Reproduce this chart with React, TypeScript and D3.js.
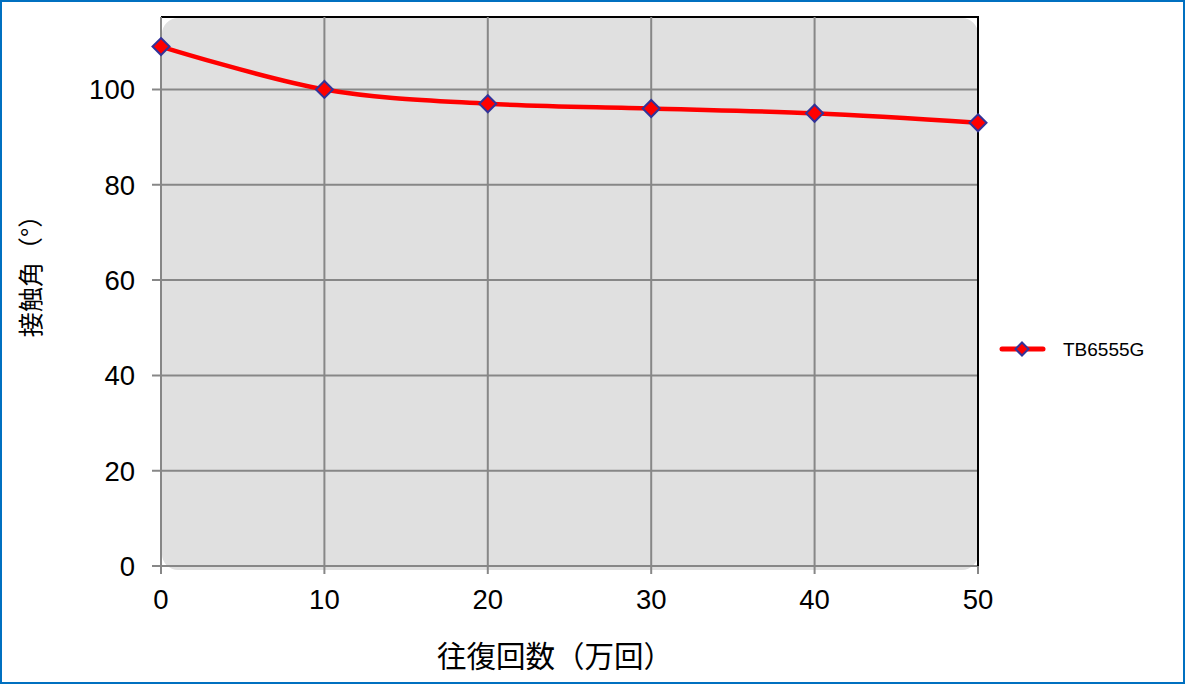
import React from "react";
import * as d3 from "d3";

const cycles = [0, 10, 20, 30, 40, 50];
const contactAngle = [109, 100, 97, 96, 95, 93];
const xTicks = [0, 10, 20, 30, 40, 50];
const yTicks = [0, 20, 40, 60, 80, 100];
const seriesName = "TB6555G";
const xTitle = "往復回数（万回）";
const yTitle = "接触角（°）";

const W = 1186;
const H = 691;
const left = 161;
const right = 978;
const top = 17;
const bottom = 566;

const latin = "Arial, 'Liberation Sans', sans-serif";
const cjk = "'Noto Sans CJK JP', 'Noto Sans CJK SC', sans-serif";

function diamond(cx: number, cy: number, r: number) {
  return `M${cx},${cy - r}L${cx + r},${cy}L${cx},${cy + r}L${cx - r},${cy}Z`;
}

export default function App() {
  const x = d3.scaleLinear().domain([0, 50]).range([left, right]);
  const y = d3.scaleLinear().domain([0, 115.2]).range([bottom, top]);
  const pts: [number, number][] = cycles.map((c, i) => [x(c), y(contactAngle[i])]);
  const line = d3.line().curve(d3.curveCatmullRom.alpha(0.5))(pts) || "";
  const grid = "#878787";

  return (
    <div style={{ position: "absolute", left: 0, top: 0 }}>
      <svg width={W} height={H} style={{ display: "block" }}>
        <rect x={0} y={0} width={W} height={H} fill="#fff" />
        <rect x={1} y={1} width={1183} height={682} fill="none" stroke="#0070C0" strokeWidth={2} />
        {/* plot background */}
        <rect x={162} y={18} width={816} height={552} rx={16} ry={16} fill="#E0E0E0" />
        {/* frame top */}
        <line x1={left} x2={right + 1} y1={top} y2={top} stroke="#000" strokeWidth={2} />
        {/* horizontal grid + y ticks */}
        {yTicks.map((t) => (
          <g key={"y" + t}>
            <line x1={152} x2={right} y1={y(t)} y2={y(t)} stroke={grid} strokeWidth={2} />
            <text
              x={135}
              y={y(t)}
              dy="0.36em"
              textAnchor="end"
              fontFamily={latin}
              fontSize={27.5}
              fill="#000"
            >
              {t}
            </text>
          </g>
        ))}
        {/* vertical grid + x ticks */}
        {xTicks.map((t) => (
          <g key={"x" + t}>
            <line
              x1={x(t)}
              x2={x(t)}
              y1={t === 50 ? bottom : top}
              y2={574}
              stroke={grid}
              strokeWidth={2}
            />
            <text
              x={x(t)}
              y={609}
              textAnchor="middle"
              fontFamily={latin}
              fontSize={27.5}
              fill="#000"
            >
              {t}
            </text>
          </g>
        ))}
        {/* right frame */}
        <line x1={right} x2={right} y1={top} y2={bottom} stroke="#000" strokeWidth={2} />
        {/* series */}
        <path d={line} fill="none" stroke="#FF0000" strokeWidth={4.5} strokeLinejoin="round" />
        {pts.map((p, i) => (
          <path key={i} d={diamond(p[0], p[1], 8.5)} fill="#FF0000" stroke="#333399" strokeWidth={2} />
        ))}
        {/* legend */}
        <line x1={1002} x2={1043} y1={349} y2={349} stroke="#FF0000" strokeWidth={5} strokeLinecap="round" />
        <path d={diamond(1022, 349, 6.5)} fill="#FF0000" stroke="#333399" strokeWidth={2} />
        <text x={1063} y={349} dy="0.36em" fontFamily={latin} fontSize={19} fill="#000">
          {seriesName}
        </text>
        {/* axis titles */}
        <text
          x={555}
          y={656}
          dy="0.36em"
          textAnchor="middle"
          fontFamily={cjk}
          fontSize={29.5}
          fill="#000"
        >
          {xTitle}
        </text>
        <text
          transform={`translate(31,270) rotate(-90)`}
          dy="0.36em"
          textAnchor="middle"
          fontFamily={cjk}
          fontSize={25}
          fill="#000"
        >
          {yTitle}
        </text>
      </svg>
    </div>
  );
}
